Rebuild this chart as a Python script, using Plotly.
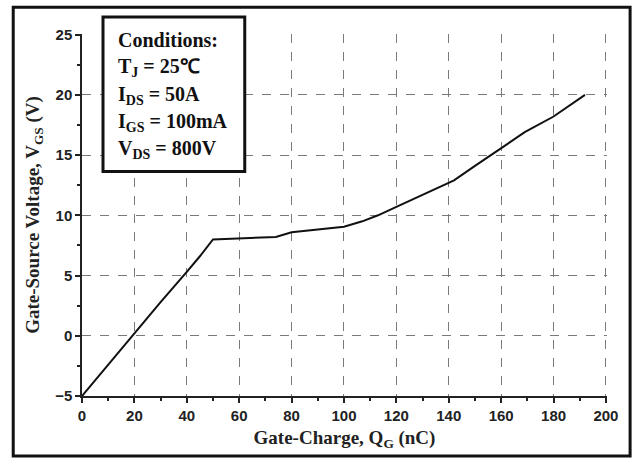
import plotly.graph_objects as go

# gate charge curve
qg_nc = [0, 10, 20, 30, 40, 45, 50, 55, 60, 67, 74, 80, 90, 100, 107, 113, 120, 126, 132, 142, 150, 159, 169, 180, 192]
vgs_v = [-5, -2.4, 0.2, 2.8, 5.3, 6.6, 8.0, 8.05, 8.08, 8.12, 8.2, 8.6, 8.8, 9.05, 9.5, 10.0, 10.7, 11.3, 11.9, 12.9, 14.1, 15.4, 16.9, 18.2, 20.0]

x_ticks = list(range(0, 201, 20))
y_ticks = list(range(-5, 26, 5))

conditions = [
    "Conditions:",
    "T<sub>J</sub> = 25\u2103",
    "I<sub>DS</sub> = 50A",
    "I<sub>GS</sub> = 100mA",
    "V<sub>DS</sub> = 800V",
]

fig = go.Figure()
fig.add_trace(go.Scatter(x=qg_nc, y=vgs_v, mode="lines",
                         line=dict(color="#111111", width=2), showlegend=False))

tick_font = dict(family="Liberation Sans, Arial", size=15, color="#222222", weight="bold")
title_font = dict(family="Liberation Serif, Times New Roman", size=19, color="#222222", weight="bold")
grid = dict(showgrid=True, gridcolor="#7a7a7a", griddash="dash", gridwidth=1)

# ranges nudged a hair past the last tick so the edge grid lines still show
fig.update_xaxes(range=[0, 200.4], tickvals=x_ticks, ticks="outside", ticklen=5, tickwidth=1.5,
                 tickcolor="#222", showline=True, linecolor="#222", linewidth=1.5, zeroline=False,
                 tickfont=tick_font, automargin=False,
                 minor=dict(ticks="outside", ticklen=3, dtick=10, tickcolor="#222", showgrid=False),
                 title=dict(text="Gate-Charge, Q<sub>G</sub> (nC)", font=title_font, standoff=8),
                 **grid)
fig.update_yaxes(range=[-5, 25.05], tickvals=y_ticks, ticks="outside", ticklen=5, tickwidth=1.5,
                 tickcolor="#222", showline=True, linecolor="#222", linewidth=1.5, zeroline=False,
                 tickfont=tick_font, automargin=False,
                 minor=dict(ticks="outside", ticklen=3, dtick=2.5, tickcolor="#222", showgrid=False),
                 title=dict(text="Gate-Source Voltage, V<sub>GS</sub> (V)", font=title_font, standoff=10),
                 **grid)

# outer frame
fig.add_shape(type="rect", xref="paper", yref="paper", x0=-0.131, x1=1.044, y0=-0.166, y1=1.074,
              line=dict(color="#111", width=3), layer="above")
# conditions box
fig.add_shape(type="rect", xref="paper", yref="paper", x0=0.04, x1=0.31, y0=0.62, y1=1.047,
              line=dict(color="#111", width=3), fillcolor="white", layer="above")
for i, txt in enumerate(conditions):
    fig.add_annotation(xref="paper", yref="paper", x=0.064, y=0.983 - i * 0.0758, xanchor="left", yanchor="middle",
                       text=txt, showarrow=False,
                       font=dict(family="Liberation Serif, Times New Roman", size=20, color="#111", weight="bold"))

fig.update_layout(width=633, height=459, margin=dict(l=82, r=26, t=34, b=63),
                  plot_bgcolor="white", paper_bgcolor="white")

fig.write_html("out.html", config={"displayModeBar": False},
               post_script="document.body.style.margin='0px';")
